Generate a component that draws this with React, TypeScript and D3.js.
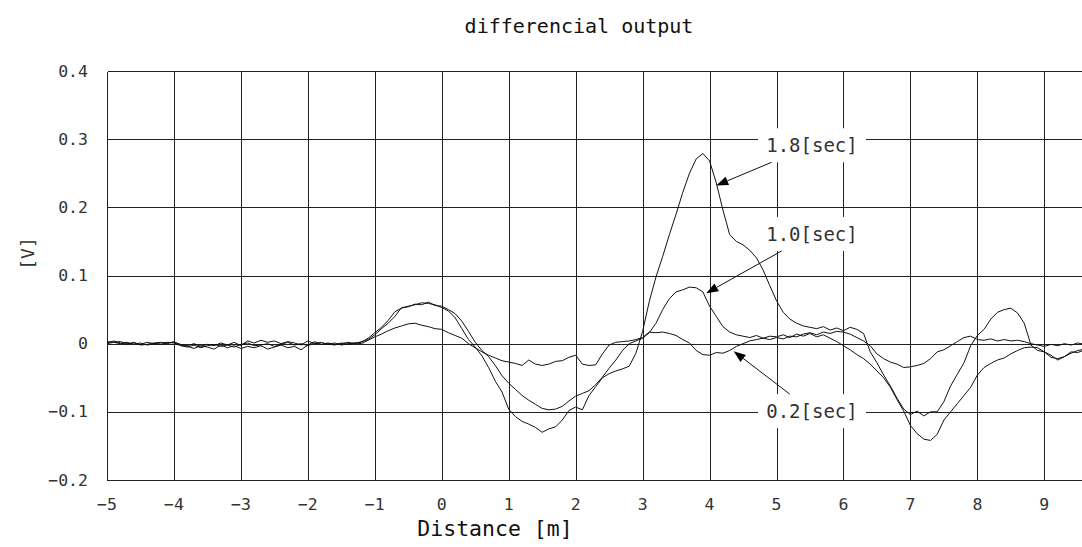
import React from 'react';
import * as d3 from 'd3';

// Sample positions along the distance axis [m]
const distance: number[] = d3.range(147).map((i) => +(-5 + i * 0.1).toFixed(1));

// differential output in mV, one value per 0.1 m from -5.0 to 9.6
const sec18: number[] = [
  3, 2, 0, 2, -1, 1, -2, 0, 1, 2,
  1, -3, -5, -2, -6, -3, -1, -4, -2, -5,
  -1, 1, -3, -2, 0, -4, -1, 2, -2, 0,
  -3, 1, -1, 0, -2, 1, -1, 1, 2, 8,
  16, 24, 34, 47, 52, 55, 57, 60, 59, 57,
  53, 48, 38, 22, 6, -5, -18, -35, -55, -71,
  -96, -107, -114, -118, -123, -130, -125, -122, -112, -98,
  -93, -97, -76, -63, -50, -44, -40, -37, -33, -14,
  18, 62, 98, 128, 160, 190, 222, 250, 271, 279,
  268, 236, 196, 160, 150, 145, 137, 126, 108, 85,
  63, 46, 36, 30, 26, 24, 22, 25, 20, 23,
  19, 24, 21, 15, -12, -28, -46, -62, -80, -96,
  -104, -99, -106, -100, -100, -85, -62, -45, -28, -3,
  12, 21, 36, 46, 50, 52, 45, 30, -2, -10,
  -12, -17, -24, -19, -14, -10, -8,
];

const sec10: number[] = [
  1, 4, 1, -1, 2, -2, -1, 1, 2, 0,
  3, -2, -4, -7, -3, -5, -8, -2, -6, -3,
  -7, -4, -6, -3, -8, -5, -2, -6, -4, -9,
  -2, 3, -1, 1, -1, 0, 2, 0, 3, 6,
  13, 22, 30, 40, 53, 54, 58, 57, 61, 56,
  55, 50, 44, 33, 18, 2, -10, -19, -32, -47,
  -58, -67, -76, -83, -89, -95, -97, -96, -92, -84,
  -77, -73, -69, -60, -49, -36, -24, -10, 0, 4,
  8, 16, 30, 50, 66, 76, 79, 83, 82, 76,
  55, 40, 25, 17, 13, 11, 9, 12, 8, 11,
  10, 13, 9, 14, 11, 15, 10, 13, 8, 3,
  -3, -9, -16, -22, -30, -40, -50, -64, -82, -99,
  -120, -132, -140, -142, -133, -112, -100, -88, -76, -64,
  -46, -35, -29, -24, -21, -15, -10, -6, -5, -6,
  -12, -20, -22, -19, -12, -13, -9,
];

const sec02: number[] = [
  0, 2, 3, 0, 1, -1, 2, 0, -1, 1,
  2, -1, -3, 0, -4, -1, -3, 1, -2, 2,
  -3, 4, 1, 5, 2, 4, 0, 3, 1, -2,
  4, 0, 2, -1, 1, -2, 0, 1, 0, 5,
  10, 14, 19, 23, 26, 29, 30, 27, 25, 22,
  21, 16, 12, 8, 0, -6, -12, -17, -21, -25,
  -27, -29, -32, -24, -30, -32, -30, -26, -25, -20,
  -17, -30, -32, -31, -15, -2, 2, 3, 4, 6,
  9, 17, 16, 17, 15, 12, 6, 1, -10, -16,
  -17, -13, -14, -10, -4, 0, 4, 6, 8, 6,
  9, 7, 11, 10, 14, 16, 13, 17, 15, 18,
  17, 14, 9, 4, -3, -15, -22, -27, -30, -35,
  -34, -32, -29, -22, -12, -9, -3, 3, 9, 11,
  6, 5, 7, 4, 6, 4, 5, 3, 0, -2,
  -4, -1, -3, 0, -2, 1, -1,
];

const xTicks: number[] = [-5, -4, -3, -2, -1, 0, 1, 2, 3, 4, 5, 6, 7, 8, 9];
const xTickLabels: string[] = ['−5', '−4', '−3', '−2', '−1', '0', '1', '2', '3', '4', '5', '6', '7', '8', '9'];
const yTicks: number[] = [-0.2, -0.1, 0, 0.1, 0.2, 0.3, 0.4];
const yTickLabels: string[] = ['−0.2', '−0.1', '0', '0.1', '0.2', '0.3', '0.4'];

// annotation labels: label centre and arrow tip in data units
const annLabels: string[] = ['1.8[sec]', '1.0[sec]', '0.2[sec]'];
const annLabelX: number[] = [5.53, 5.53, 5.53];
const annLabelY: number[] = [0.291, 0.161, -0.099];
const annTipX: number[] = [4.1, 3.95, 4.36];
const annTipY: number[] = [0.232, 0.074, -0.011];

const FONT = "'DejaVu Sans Mono', 'Liberation Mono', monospace";

export default function App() {
  const W = 1082;
  const H = 547;
  const x = d3.scaleLinear().domain([-5, 9.6]).range([107, 1084.5]);
  const y = d3.scaleLinear().domain([-0.2, 0.4]).range([480, 71]);
  const snap = (v: number) => Math.round(v) + 0.5;

  const line = d3
    .line<number>()
    .x((_, i) => x(distance[i]))
    .y((d) => y(d / 1000));

  const series = [sec18, sec10, sec02];

  const rectHW = 54;
  const rectHH = 17;

  return (
    <svg
      width={W}
      height={H}
      style={{ position: 'absolute', left: 0, top: 0, display: 'block', background: '#fff' }}
    >
      <rect x={0} y={0} width={W} height={H} fill="#fff" />
      {/* grid */}
      <g stroke="#222" strokeWidth={1} shapeRendering="crispEdges">
        {xTicks.map((t) => (
          <line key={'vx' + t} x1={snap(x(t))} x2={snap(x(t))} y1={snap(y(0.4))} y2={snap(y(-0.2))} />
        ))}
        {yTicks.map((t) => (
          <line key={'hy' + t} x1={snap(x(-5))} x2={W} y1={snap(y(t))} y2={snap(y(t))} />
        ))}
      </g>
      {/* curves */}
      <g fill="none" stroke="#111" strokeWidth={1} strokeLinejoin="round">
        {series.map((s, i) => (
          <path key={'s' + i} d={line(s) || ''} />
        ))}
      </g>
      {/* annotations */}
      {annLabels.map((lab, i) => {
        const cx = x(annLabelX[i]);
        const cy = y(annLabelY[i]);
        const tx = x(annTipX[i]);
        const ty = y(annTipY[i]);
        const dx = tx - cx;
        const dy = ty - cy;
        const t = Math.min(rectHW / Math.abs(dx), rectHH / Math.abs(dy));
        const sx = cx + dx * t;
        const sy = cy + dy * t;
        const len = Math.hypot(tx - sx, ty - sy);
        const ux = (tx - sx) / len;
        const uy = (ty - sy) / len;
        const hl = 12;
        const hw = 4.5;
        const bx = tx - ux * hl;
        const by = ty - uy * hl;
        const head = `M${tx},${ty}L${bx - uy * hw},${by + ux * hw}L${bx + uy * hw},${by - ux * hw}Z`;
        return (
          <g key={'a' + i}>
            <rect x={cx - rectHW} y={cy - rectHH} width={rectHW * 2} height={rectHH * 2} fill="#fff" />
            <text
              x={cx}
              y={cy}
              textAnchor="middle"
              dominantBaseline="central"
              fontFamily={FONT}
              fontSize={19}
              fill="#333"
            >
              {lab}
            </text>
            <line x1={sx} y1={sy} x2={bx} y2={by} stroke="#111" strokeWidth={1} />
            <path d={head} fill="#000" />
          </g>
        );
      })}
      {/* y tick labels */}
      {yTicks.map((t, i) => (
        <text
          key={'yl' + t}
          x={88}
          y={y(t)}
          textAnchor="end"
          dominantBaseline="central"
          fontFamily={FONT}
          fontSize={16.5}
          fill="#333"
        >
          {yTickLabels[i]}
        </text>
      ))}
      {/* x tick labels */}
      {xTicks.map((t, i) => (
        <text
          key={'xl' + t}
          x={x(t)}
          y={510}
          textAnchor="middle"
          fontFamily={FONT}
          fontSize={16.5}
          fill="#333"
        >
          {xTickLabels[i]}
        </text>
      ))}
      {/* titles */}
      <text x={579} y={33} textAnchor="middle" fontFamily={FONT} fontSize={20} fill="#111">
        differencial output
      </text>
      <text x={495} y={536} textAnchor="middle" fontFamily={FONT} fontSize={21.5} fill="#111">
        Distance [m]
      </text>
      <text
        transform="translate(27.5,253.5) rotate(-90)"
        textAnchor="middle"
        dominantBaseline="central"
        fontFamily={FONT}
        fontSize={18}
        fill="#333"
      >
        [V]
      </text>
    </svg>
  );
}
